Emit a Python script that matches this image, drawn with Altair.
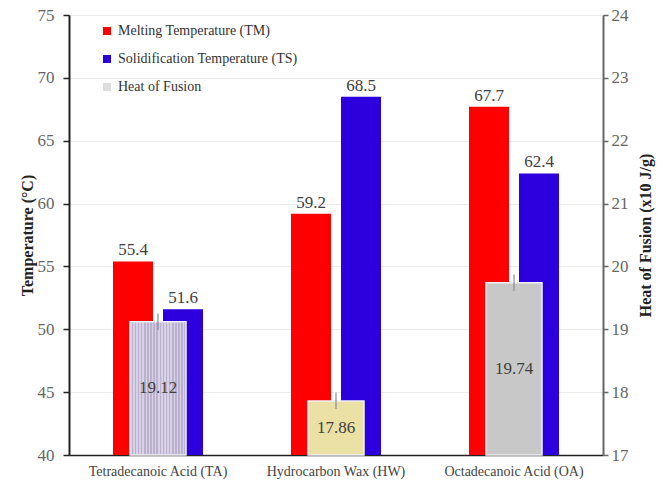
import altair as alt
import pandas as pd

# Materials and measured thermal properties
categories = ["Tetradecanoic Acid (TA)", "Hydrocarbon Wax (HW)", "Octadecanoic Acid (OA)"]
melting_temp = [55.4, 59.2, 67.7]
solidification_temp = [51.6, 68.5, 62.4]
heat_of_fusion = [19.12, 17.86, 19.74]
heat_error = [0.13, 0.13, 0.13]

series_names = ["Melting Temperature (TM)", "Solidification Temperature (TS)", "Heat of Fusion"]
series_colors = ["#ff0000", "#2b00dc", "#dedede"]
heat_fills = ["#cbc3dc", "#ebe1a5", "#c8c8c8"]

temp_ticks = [40, 45, 50, 55, 60, 65, 70, 75]
heat_ticks = [17, 18, 19, 20, 21, 22, 23, 24]
TEMP_MIN, TEMP_MAX = 40, 75
HEAT_MIN, HEAT_MAX = 17, 24

temp_df = pd.DataFrame({
    "category": categories * 2,
    "series": [series_names[0]] * 3 + [series_names[1]] * 3,
    "temp": melting_temp + solidification_temp,
})
heat_df = pd.DataFrame({"category": categories, "heat": heat_of_fusion, "err": heat_error})

SERIF = "Liberation Serif"

x_enc = alt.X(
    "category:N", sort=categories,
    scale=alt.Scale(paddingInner=0, paddingOuter=0),
    axis=alt.Axis(title=None, labelAngle=0, labelFont=SERIF, labelFontSize=14,
                  labelColor="#444444", labelPadding=9, ticks=False,
                  domainColor="#222222", domainWidth=1.5),
)
offset_enc = alt.XOffset(
    "series:N", sort=series_names[:2],
    scale=alt.Scale(domain=series_names[:2], paddingInner=0.2, paddingOuter=0.88),
)

temp_axis = alt.Axis(
    title="Temperature (°C)", values=temp_ticks, titleFont=SERIF, titleFontSize=16,
    titleFontWeight="bold", titleColor="#222222", titlePadding=2,
    labelFont=SERIF, labelFontSize=17, labelColor="#666666", labelPadding=9,
    tickSize=6, tickColor="#222222", tickWidth=1.5,
    domainColor="#222222", domainWidth=2,
    grid=True, gridColor="#ececec", gridWidth=1,
)
temp_scale = alt.Scale(domain=[TEMP_MIN, TEMP_MAX], zero=False, nice=False)

heat_axis = alt.Axis(
    title="Heat of Fusion (x10 J/g)", values=heat_ticks, orient="right",
    titleFont=SERIF, titleFontSize=16, titleFontWeight="bold", titleColor="#222222",
    titleAngle=270, titleAlign="center", titleBaseline="middle",
    titleX=42, titleY=220,
    labelFont=SERIF, labelFontSize=17, labelColor="#666666", labelPadding=3,
    tickSize=5, tickColor="#666666", tickWidth=1.5,
    domainColor="#666666", domainWidth=2, grid=False,
)
heat_scale = alt.Scale(domain=[HEAT_MIN, HEAT_MAX], zero=False, nice=False)

temp_bars = alt.Chart(temp_df).mark_bar().encode(
    x=x_enc,
    xOffset=offset_enc,
    y=alt.Y("temp:Q", scale=temp_scale, axis=temp_axis),
    y2=alt.datum(TEMP_MIN),
    color=alt.Color(
        "series:N",
        scale=alt.Scale(domain=series_names, range=series_colors),
        legend=alt.Legend(
            title=None, orient="none", legendX=31, legendY=9,
            symbolType="square", symbolSize=64, symbolStrokeWidth=0,
            labelFont=SERIF, labelFontSize=14, labelColor="#333333",
            labelOffset=4, rowPadding=14, labelLimit=400,
        ),
    ),
)
temp_labels = alt.Chart(temp_df).mark_text(
    font=SERIF, fontSize=17, color="#404040", baseline="alphabetic", dy=-6
).encode(
    x=x_enc,
    xOffset=offset_enc,
    y=alt.Y("temp:Q", scale=temp_scale, axis=temp_axis),
    text=alt.Text("temp:Q", format=".1f"),
)
temp_layer = alt.layer(temp_bars, temp_labels)

# Vertical hatch used for the tetradecanoic acid heat-of-fusion bar
n_stripes = 18
stripe_stops = []
for i in range(n_stripes):
    a, b, c = i / n_stripes, (i + 0.5) / n_stripes, (i + 1) / n_stripes
    stripe_stops += [
        alt.GradientStop(offset=a, color="#d8d1e6"),
        alt.GradientStop(offset=b, color="#d8d1e6"),
        alt.GradientStop(offset=b, color="#bab1ce"),
        alt.GradientStop(offset=c, color="#bab1ce"),
    ]
striped_fill = alt.LinearGradient(gradient="linear", stops=stripe_stops, x1=0, x2=1, y1=0, y2=0)

heat_bar_style = dict(width=56, stroke="#f0f0f4", strokeWidth=1.5)

heat_bars_plain = alt.Chart(heat_df).transform_filter(
    alt.datum.category != categories[0]
).mark_bar(**heat_bar_style).encode(
    x=x_enc,
    y=alt.Y("heat:Q", scale=heat_scale, axis=heat_axis),
    y2=alt.datum(HEAT_MIN),
    fill=alt.Fill("category:N", sort=categories,
                  scale=alt.Scale(domain=categories, range=heat_fills), legend=None),
)
heat_bar_striped = alt.Chart(heat_df).transform_filter(
    alt.datum.category == categories[0]
).mark_bar(fill=striped_fill, **heat_bar_style).encode(
    x=x_enc,
    y=alt.Y("heat:Q", scale=heat_scale, axis=heat_axis),
    y2=alt.datum(HEAT_MIN),
)
heat_err = alt.Chart(heat_df).transform_calculate(
    lo="datum.heat - datum.err", hi="datum.heat + datum.err"
).mark_rule(color="#8a8a9a", strokeWidth=1.2).encode(
    x=x_enc,
    y=alt.Y("lo:Q", scale=heat_scale, axis=heat_axis),
    y2="hi:Q",
)
heat_labels = alt.Chart(heat_df).transform_calculate(
    mid=f"({HEAT_MIN} + datum.heat) / 2"
).mark_text(font=SERIF, fontSize=17, color="#404040", baseline="middle").encode(
    x=x_enc,
    y=alt.Y("mid:Q", scale=heat_scale, axis=heat_axis),
    text=alt.Text("heat:Q", format=".2f"),
)
heat_layer = alt.layer(heat_bars_plain, heat_bar_striped, heat_err, heat_labels)

chart = alt.layer(temp_layer, heat_layer).resolve_scale(
    y="independent"
).properties(
    width=534, height=440,
    autosize=alt.AutoSizeParams(type="none"),
    padding={"left": 69, "top": 15, "right": 64, "bottom": 32},
    background="white",
).configure_view(stroke=None)

chart.save("out.html", embed_options={"renderer": "svg", "actions": False})
